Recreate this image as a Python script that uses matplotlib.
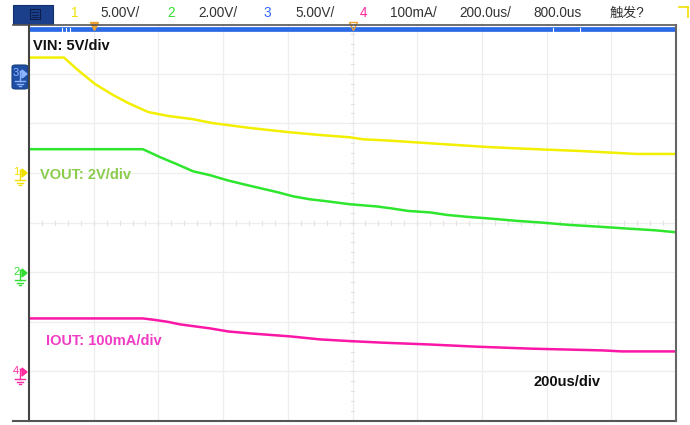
import numpy as np
import matplotlib
matplotlib.use("Agg")
import matplotlib.pyplot as plt
from matplotlib.patches import Rectangle, FancyBboxPatch, Polygon
from matplotlib.lines import Line2D

# ---------------- data ----------------
# time in microseconds (200 us/div, 10 div)
vin_t = [0, 108, 151, 204, 260, 306, 368, 430, 504, 566, 683, 798, 900, 992,
         1032, 1116, 1209, 1323, 1434, 1573, 1703, 1879, 2000]
vin_v = [11.64, 11.64, 10.38, 8.97, 7.86, 7.06, 6.15, 5.75, 5.44, 5.04, 4.54, 4.13,
         3.83, 3.60, 3.40, 3.26, 3.06, 2.82, 2.59, 2.39, 2.22, 1.92, 1.92]

vout_t = [0, 352, 405, 458, 507, 560, 612, 662, 714, 767, 816, 868, 921, 992,
          1076, 1122, 1172, 1240, 1292, 1357, 1419, 1508, 1586, 1666, 1756, 1849, 1935, 2000]
vout_v = [4.96, 4.96, 4.64, 4.35, 4.07, 3.91, 3.71, 3.55, 3.39, 3.23, 3.06, 2.94, 2.86,
          2.74, 2.65, 2.57, 2.47, 2.41, 2.31, 2.23, 2.17, 2.07, 2.00, 1.91, 1.84, 1.76, 1.69, 1.61]

iout_t = [0, 352, 389, 430, 467, 560, 615, 683, 807, 900, 992, 1094, 1233, 1385,
          1555, 1774, 1833, 2000]
iout_ma = [106.8, 106.8, 103.8, 99.8, 94.8, 86.7, 80.6, 76.6, 70.6, 64.5, 61.1, 57.9,
           54.4, 49.8, 45.8, 42.3, 40.3, 40.3]

ch3_t = [0, 2000]
ch3_v = [4.47, 4.47]

# channel settings: (scale per div, ground position in div)
ch_scale = {"1": 5.0, "2": 2.0, "3": 5.0, "4": 100.0}
ch_ground = {"1": 5.0, "2": 3.0, "3": 7.0, "4": 1.0}
time_per_div = 200.0

header_items = [("1", "#f0e000"), ("5.00V/", "#333333"), ("2", "#33dd33"), ("2.00V/", "#333333"),
                ("3", "#3366ff"), ("5.00V/", "#333333"), ("4", "#ff2aa0"), ("100mA/", "#333333"),
                ("200.0us/", "#333333"), ("800.0us", "#333333"), ("触发?", "#333333")]
header_x = [71, 100, 167, 198, 263, 295, 360, 390, 459, 533, 610]

# ---------------- figure ----------------
W, H = 690, 425
fig = plt.figure(figsize=(6.9, 4.25), dpi=100)
fig.patch.set_facecolor("white")
FONT = ["Liberation Sans", "Noto Sans CJK SC", "DejaVu Sans"]


def P(x, y):
    return (x / W, 1 - y / H)


def fline(x0, y0, x1, y1, **kw):
    a, b = P(x0, y0), P(x1, y1)
    fig.add_artist(Line2D([a[0], b[0]], [a[1], b[1]], transform=fig.transFigure, **kw))


ax = fig.add_axes([29 / W, (H - 421) / H, (676 - 29) / W, (421 - 24.2) / H])
ax.set_xlim(0, 10)
ax.set_ylim(0, 8)
ax.axis("off")

# grid
for i in range(1, 10):
    ax.axvline(i, color="#eeeeee", lw=0.9, zorder=0)
for j in range(1, 8):
    ax.axhline(j, color="#eeeeee", lw=0.9, zorder=0)
for k in np.arange(0, 10.001, 0.2):
    ax.plot([k, k], [4 - 0.04, 4 + 0.04], color="#e2e2e2", lw=0.8, zorder=0)
for k in np.arange(0, 8.001, 0.2):
    ax.plot([5 - 0.03, 5 + 0.03], [k, k], color="#e2e2e2", lw=0.8, zorder=0)


def to_div(t, v, ch):
    return (np.array(t) / time_per_div, ch_ground[ch] + np.array(v) / ch_scale[ch])


x, y = to_div(vin_t, vin_v, "1")
ax.plot(x, y, color="#f2ef00", lw=1.8, zorder=3)
x, y = to_div(vout_t, vout_v, "2")
ax.plot(x, y, color="#2ee62e", lw=1.8, zorder=3)
x, y = to_div(iout_t, iout_ma, "4")
ax.plot(x, y, color="#fa16a6", lw=1.8, zorder=3)
x, y = to_div(ch3_t, ch3_v, "3")
ax.plot(x, y, color="#2a6ae6", lw=3.4, zorder=4, clip_on=False, solid_capstyle="butt")

# small white ticks on the blue trace
for xd in [0.51, 0.57, 0.63, 8.1, 8.52]:
    ax.plot([xd, xd], [7.86, 7.93], color="white", lw=0.8, zorder=5, clip_on=False)

# trigger markers
ax.plot([1.0], [7.97], marker="v", ms=6, color="#f0a030", zorder=6, clip_on=False)
ax.plot([5.0], [7.97], marker="v", ms=6, mfc="none", mec="#f0a030", mew=1, zorder=6, clip_on=False)

# frame
fline(13, 25, 676, 25, color="#555555", lw=1.2)
fline(29, 25, 29, 421, color="#444444", lw=1.5)
fline(13, 421, 676, 421, color="#555555", lw=1.5)
fline(676, 25, 676, 421, color="#666666", lw=1.5)

# header
fig.add_artist(Rectangle(P(13, 24), 40 / W, 19 / H, transform=fig.transFigure,
                         facecolor="#1b3f8b", edgecolor="#10306e", lw=0.8))
fig.add_artist(Rectangle(P(30, 19), 10 / W, 10 / H, transform=fig.transFigure,
                         facecolor="none", edgecolor="#0b1d48", lw=0.8))
for yy in [12, 14.5, 17]:
    fline(32, yy, 38, yy, color="#0b1d48", lw=0.6)
for (txt, col), hx in zip(header_items, header_x):
    fig.text(hx / W, 1 - 13 / H, txt, color=col, fontsize=9.8, family=FONT, va="center", ha="left")
fline(679, 7, 688, 7, color="#f0e000", lw=1.2)
fline(688, 7, 688, 17, color="#f0e000", lw=1.2)


# channel markers
def ch_marker(num, y, color, txtcol=None):
    txtcol = txtcol or color
    fig.text(13 / W, 1 - (y - 1) / H, num, color=txtcol, fontsize=8, family=FONT, va="center", ha="left")
    fline(20, y - 3, 20, y + 7, color=color, lw=1)
    fline(20, y - 3, 22, y - 3, color=color, lw=1)
    fig.add_artist(Polygon([P(22, y - 4), P(27, y), P(22, y + 4)], closed=True,
                           transform=fig.transFigure, facecolor=color, edgecolor=color))
    fline(15, y + 7, 25, y + 7, color=color, lw=1)
    fline(17, y + 9.5, 23, y + 9.5, color=color, lw=1)
    fline(19, y + 12, 21, y + 12, color=color, lw=1)


fig.add_artist(FancyBboxPatch(P(12, 89), 16 / W, 24 / H, boxstyle="round,pad=0,rounding_size=0.005",
                              transform=fig.transFigure, facecolor="#1f4fa5", edgecolor="#16407f", lw=0.8))
ch_marker("3", 74, "#8fb4ff")
ch_marker("1", 173, "#f0e000")
ch_marker("2", 273, "#33dd33")
ch_marker("4", 372, "#ff2aa0")

# labels
fig.text(33 / W, 1 - 46 / H, "VIN: 5V/div", color="#111111", fontsize=10.5, fontweight="bold",
         family=FONT, va="center", ha="left")
fig.text(40 / W, 1 - 175 / H, "VOUT: 2V/div", color="#8ccc4c", fontsize=10.5, fontweight="bold",
         family=FONT, va="center", ha="left")
fig.text(46 / W, 1 - 341 / H, "IOUT: 100mA/div", color="#f03cc4", fontsize=10.5, fontweight="bold",
         family=FONT, va="center", ha="left")
fig.text(533 / W, 1 - 382 / H, "200us/div", color="#111111", fontsize=10.5, fontweight="bold",
         family=FONT, va="center", ha="left")

fig.savefig("out.png", dpi=100)
